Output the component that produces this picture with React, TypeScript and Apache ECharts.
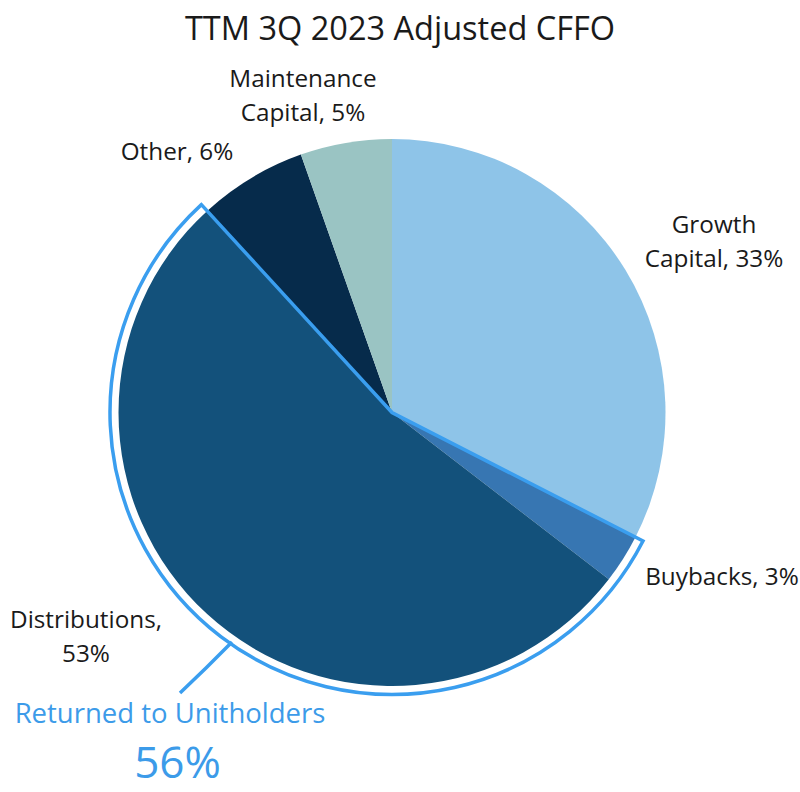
import React, { useEffect, useRef } from "react";
import * as echarts from "echarts";

const TITLE = "TTM 3Q 2023 Adjusted CFFO";
const categories = ["Growth Capital", "Buybacks", "Distributions", "Other", "Maintenance Capital"];
const labelNames = ["Growth\nCapital", "Buybacks", "Distributions", "Other", "Maintenance\nCapital"];
const labelSeparators = [", ", ", ", ",\n", ", ", ", "];
const values = [32.5, 2.9, 52.7, 6.4, 5.4];
const colors = ["#8EC4E8", "#3776B2", "#13517B", "#062B4B", "#9AC4C3"];
const returnedLabel = "Returned to Unitholders";
const returnedIdx = [1, 2];

// layout (pixel) positions of the hand-placed labels
const LABEL_POS: number[][] = [
  [714, 240],
  [722, 575],
  [86, 635],
  [177, 150],
  [303, 94],
];

const FONT = "Open Sans";
const OUTLINE = "#3A9EEF";
const BLUE_TEXT = "#3C9BE9";

export default function App() {
  const ref = useRef<HTMLDivElement>(null);
  useEffect(() => {
    if (!ref.current) return;
    const chart = echarts.init(ref.current, undefined, { renderer: "svg" });
    const returned = returnedIdx.reduce((s, i) => s + values[i], 0);
    const before = values.slice(0, returnedIdx[0]).reduce((s, v) => s + v, 0);
    const after = values.slice(returnedIdx[returnedIdx.length - 1] + 1).reduce((s, v) => s + v, 0);
    const center = [392, 412.5];
    const option: any = {
      animation: false,
      title: {
        text: TITLE,
        left: "center",
        top: 6,
        textStyle: { fontFamily: FONT, fontSize: 32.5, fontWeight: "normal", color: "#1a1a1a" },
      },
      series: [
        {
          type: "pie",
          center,
          radius: [0, 273.5],
          startAngle: 90,
          clockwise: true,
          silent: true,
          avoidLabelOverlap: false,
          z: 2,
          itemStyle: { borderWidth: 0 },
          data: categories.map((c, i) => ({
            name: c,
            value: values[i],
            itemStyle: { color: colors[i], borderWidth: 0 },
          })),
          label: {
            show: true,
            position: "outside",
            formatter: (p: any) =>
              `${labelNames[p.dataIndex]}${labelSeparators[p.dataIndex]}${Math.round(p.value)}%`,
            fontFamily: FONT,
            fontSize: 24.3,
            lineHeight: 34,
            color: "#1a1a1a",
            align: "center",
          },
          labelLine: { show: false },
          labelLayout: (p: any) => ({
            x: LABEL_POS[p.dataIndex][0],
            y: LABEL_POS[p.dataIndex][1],
            align: "center",
            verticalAlign: "middle",
          }),
        },
        {
          type: "pie",
          center,
          radius: [0, 282],
          startAngle: 90,
          clockwise: true,
          silent: true,
          avoidLabelOverlap: false,
          z: 3,
          data: [
            {
              name: "before",
              value: before,
              itemStyle: { color: "transparent", borderWidth: 0 },
              label: { show: false },
              labelLine: { show: false },
            },
            {
              name: returnedLabel,
              value: returned,
              itemStyle: { color: "transparent", borderColor: OUTLINE, borderWidth: 3.5, borderJoin: "miter" },
              label: {
                show: true,
                position: "outside",
                formatter: `{a|${returnedLabel}}\n{b|${Math.round(returned)}%}`,
                align: "center",
                rich: {
                  a: { fontFamily: FONT, fontSize: 27.5, lineHeight: 36, color: BLUE_TEXT, align: "center" },
                  b: {
                    fontFamily: FONT,
                    fontSize: 44,
                    lineHeight: 62,
                    color: BLUE_TEXT,
                    align: "center",
                    padding: [0, 0, 0, 15],
                  },
                },
              },
              labelLine: { show: true, lineStyle: { color: OUTLINE, width: 3.5 } },
            },
            {
              name: "after",
              value: after,
              itemStyle: { color: "transparent", borderWidth: 0 },
              label: { show: false },
              labelLine: { show: false },
            },
          ],
          labelLayout: (p: any) =>
            p.dataIndex === 1
              ? {
                  x: 170,
                  y: 743,
                  align: "center",
                  verticalAlign: "middle",
                  labelLinePoints: [
                    [232, 642],
                    [206, 668],
                    [180, 693],
                  ],
                }
              : {},
        },
      ],
    };
    chart.setOption(option);
    return () => chart.dispose();
  }, []);
  return (
    <div
      ref={ref}
      style={{ position: "absolute", left: 0, top: 0, width: 800, height: 792, background: "#fff" }}
    />
  );
}
